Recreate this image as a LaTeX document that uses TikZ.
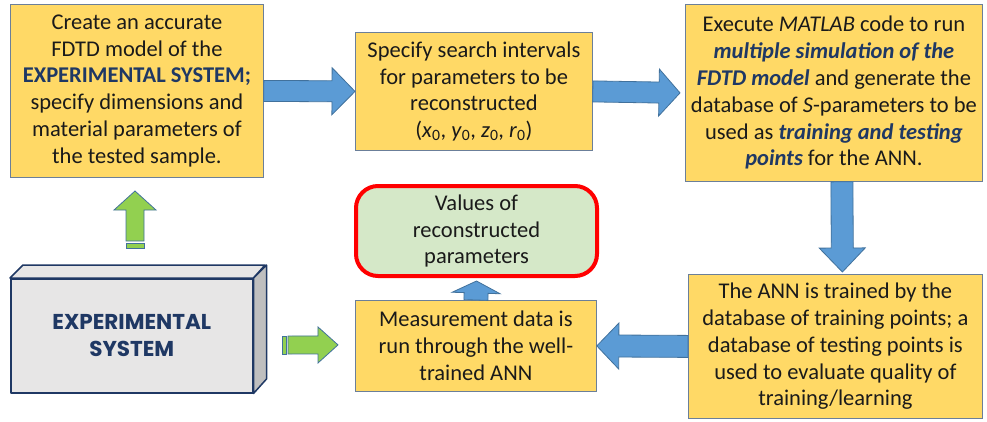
\documentclass[tikz,border=0pt]{standalone}
\usepackage{fontspec}
\setmainfont{Carlito}
\newfontfamily\gothfont{Poppins}
\usetikzlibrary{calc}

\definecolor{boxfill}{HTML}{FFD966}
\definecolor{boxline}{HTML}{6B7F99}
\definecolor{arrowfill}{HTML}{5B9BD5}
\definecolor{arrowline}{HTML}{41719C}
\definecolor{greenfill}{HTML}{92D050}
\definecolor{resultfill}{HTML}{D5E8C8}
\definecolor{navy}{HTML}{1F3864}
\definecolor{txt}{HTML}{1A1A1A}
\definecolor{cubefill}{HTML}{E7E6E6}
\definecolor{cubeside}{HTML}{BFBFBF}

% block arrow: style, from, to, shaft half width, head half width, head length
\newcommand{\blockarrow}[6][]{%
  \coordinate (ba-h) at ($(#3)!#6pt!(#2)$);
  \draw[#1] ($(#2)!#4pt!90:(#3)$) -- ($(ba-h)!#4pt!90:(#3)$)
    -- ($(ba-h)!#5pt!90:(#3)$) -- (#3) -- ($(ba-h)!#5pt!-90:(#3)$)
    -- ($(ba-h)!#4pt!-90:(#3)$) -- ($(#2)!#4pt!-90:(#3)$) -- cycle;
}
\newcommand{\hi}[1]{\textcolor{navy}{\bfseries\itshape #1}}

\begin{document}
\begin{tikzpicture}[
x=1pt,y=-1pt,
stage/.style={
  draw=boxline,
  fill=boxfill,
  line width=0.8pt,
  align=center,
  inner sep=0pt,
  anchor=north west,
  text=txt,
  font=\fontsize{22.5}{26.8}\selectfont
  },
result/.style={
  stage,
  draw=red,
  fill=resultfill,
  line width=4pt,
  rounded corners=22pt
  },
cube/.style={
  draw=navy,
  fill=cubefill,
  line width=1.5pt,
  line join=round
  },
bluearrow/.style={
  draw=arrowline,
  fill=arrowfill,
  line width=0.8pt
  },
greenarrow/.style={
  draw=arrowline,
  fill=greenfill,
  line width=0.8pt
  }
]
\useasboundingbox (0,0) rectangle (987,421);

\node[stage, minimum width=253pt, minimum height=173pt] (model) at (10,4)
  {Create an accurate\\FDTD model of the\\
   \textcolor{navy}{\bfseries EXPERIMENTAL SYSTEM;}\\
   specify dimensions and\\material parameters of\\the tested sample.};
\node[stage, minimum width=237pt, minimum height=118pt] (search) at (355,32)
  {Specify search intervals\\for parameters to be\\reconstructed\\
   (\textit{x}\textsubscript{0}, \textit{y}\textsubscript{0},
    \textit{z}\textsubscript{0}, \textit{r}\textsubscript{0})};
\node[stage, minimum width=297pt, minimum height=177pt] (matlab) at (685,4)
  {Execute \textit{MATLAB} code to run\\\hi{multiple simulation of the}\\
   \hi{FDTD model} and generate the\\database of \textit{S}-parameters to be\\
   used as \hi{training and testing}\\\hi{points} for the ANN.};
\node[stage, minimum width=294pt, minimum height=144pt] (train) at (688,274)
  {The ANN is trained by the\\database of training points; a\\
   database of testing points is\\used to evaluate quality of\\training/learning};
\node[stage, minimum width=241pt, minimum height=91pt] (measure) at (355,300)
  {Measurement data is\\run through the well-\\trained ANN};

% experimental system block
\node[cube, anchor=north west, minimum width=242pt, minimum height=114pt,
  inner sep=0pt, align=center, text=navy,
  font=\gothfont\bfseries\fontsize{21.5}{27}\selectfont] (expsys) at (10,278)
  {EXPERIMENTAL\\SYSTEM};
\draw[cube] (expsys.north west) -- ++(13,-13) -- ++(242,0)
  -- (expsys.north east) -- cycle;
\draw[cube, fill=cubeside] (expsys.north east) -- ++(13,-13) -- ++(0,114)
  -- (expsys.south east) -- cycle;

% blue arrows
\coordinate (a23) at ($(matlab.west)+(-5,0)$);
\coordinate (a34s) at ($(matlab.south)+(8,0)$);
\coordinate (a34e) at ($(train.north)+(7,-2)$);
\blockarrow[bluearrow]{model.east}{search.west}{10.5}{23.5}{23}
\blockarrow[bluearrow]{search.east}{a23}{10.5}{23.5}{21}
\blockarrow[bluearrow]{a34s}{a34e}{11}{23}{24}
\blockarrow[bluearrow]{train.west}{measure.east}{11}{23}{22}

\node[result, minimum width=241pt, minimum height=90pt] (values) at (354,184)
  {Values of\\reconstructed\\parameters};
\coordinate (a56) at ($(values.south)+(0,3)$);
\blockarrow[bluearrow]{measure.north}{a56}{12}{24}{12}

% green arrows
\coordinate (gu-tail) at (135,241);
\coordinate (gu-tip) at (135,191);
\blockarrow[greenarrow]{gu-tail}{gu-tip}{9}{21}{19}
\draw[greenarrow] ($(gu-tail)+(-9,2)$) rectangle ($(gu-tail)+(9,7)$);
\coordinate (gr-tail) at (288,345);
\coordinate (gr-tip) at ($(measure.west)+(-17,-1)$);
\blockarrow[greenarrow]{gr-tail}{gr-tip}{9}{18}{20}
\draw[greenarrow] ($(gr-tail)+(-6,-9)$) rectangle ($(gr-tail)+(-2,9)$);

\end{tikzpicture}
\end{document}
